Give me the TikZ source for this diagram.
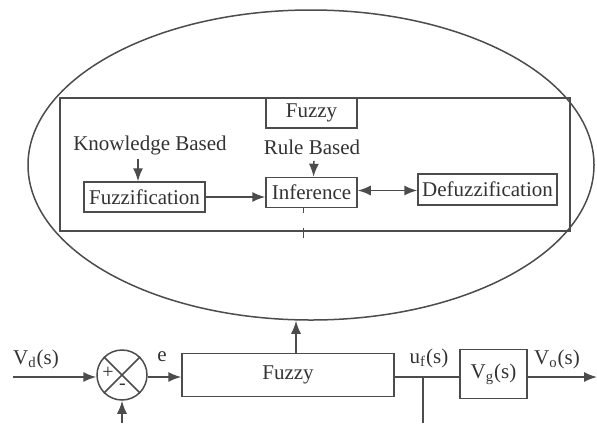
\documentclass[tikz,border=0pt]{standalone}
\usepackage{fontspec}
\setmainfont{Liberation Serif}
\usetikzlibrary{shapes.geometric,arrows.meta,calc}
\begin{document}
\begin{tikzpicture}[x=0.5pt,y=-0.5pt,
  line/.style={draw=black!70,line width=0.75pt},
  arr/.style={line,-{Latex[length=6.5pt,width=5pt]}},
  darr/.style={line,{Latex[length=6.5pt,width=5pt]}-{Latex[length=6.5pt,width=5pt]}},
  box/.style={line,rectangle,inner sep=0pt,text=black!80,font=\fontsize{10.5}{12}\selectfont},
  lbl/.style={inner sep=0pt,text=black!80,font=\fontsize{10.5}{12}\selectfont}]
\useasboundingbox (0,0) rectangle (597,423);
% ellipse and inner block
\node[ellipse,line,fill=white,minimum width=283pt,minimum height=155pt,inner sep=0pt] (ell) at (311,165) {};
\node[box,minimum width=255pt,minimum height=66.5pt] (inner) at (315,164.5) {};
\node[box,minimum width=45.5pt,minimum height=15pt] (fztop) at (311.5,113) {Fuzzy};
\node[lbl] (kb) at (150,145) {Knowledge Based};
\node[lbl] (rb) at (312,147) {Rule Based};
\node[box,minimum width=60.5pt,minimum height=15pt] (fuzz) at (144.5,197) {Fuzzification};
\node[box,minimum width=45.5pt,minimum height=15pt] (inf) at (311.5,192.5) {Inference};
\node[box,minimum width=69.5pt,minimum height=15.5pt] (defz) at (487.5,189.5) {Defuzzification};
\draw[arr] ([xshift=-3.25pt]kb.south -| fuzz.north) ++(0,4) -- ([xshift=-3.25pt]fuzz.north);
\draw[arr] ([xshift=1pt,yshift=-3pt]rb.south) -- ([xshift=1pt]inf.north);
\draw[arr] (fuzz.east) -- (fuzz.east -| inf.west);
\coordinate (da) at ($(inf.east)+(0,-2)$);
\draw[darr] (da) -- (da -| defz.west);
\draw[line,line width=0.5pt] ([xshift=-4pt]inf.south) -- ++(0,5);
\draw[line,line width=0.5pt] ([xshift=-4pt]inf.south |- inner.south) ++(0,-4) -- ++(0,10);
% bottom loop
\node[circle,line,minimum size=25pt,inner sep=0pt] (sum) at (122,375) {};
\draw[line] (sum.north west) -- (sum.south east) (sum.north east) -- (sum.south west);
\node[lbl,font=\fontsize{10}{11}\selectfont] (plus) at (108,373) {+};
\node[lbl,font=\fontsize{10}{11}\selectfont] (minus) at (122.5,387) {-};
\node[box,minimum width=106pt,minimum height=21.5pt] (fz) at (288,375) {Fuzzy};
\node[box,minimum width=33.5pt,minimum height=24.5pt] (vg) at (493.5,374) {V\textsubscript{g}(s)};
\coordinate (in) at (13,377);
\coordinate (out) at (597,377);
\coordinate (fb) at (122,423);
\coordinate (br) at (423,377);
\coordinate (brd) at (423,423);
\node[lbl] (vd) at (36,359) {V\textsubscript{d}(s)};
\node[lbl] (e) at (162,357) {e};
\node[lbl] (uf) at (429,358) {u\textsubscript{f}(s)};
\node[lbl] (vo) at (557,359) {V\textsubscript{o}(s)};
\draw[arr] (in) -- (in -| sum.west);
\draw[arr] (fb) -- (sum.south);
\draw[arr] (sum.east |- in) -- (in -| fz.west);
\draw[line] (fz.east |- in) -- (in -| vg.west);
\draw[line] (br) -- (brd);
\draw[arr] (vg.east |- in) -- (out);
\draw[arr] ([xshift=4pt]fz.north) -- ([xshift=4pt]fz.north |- ell.south);
\end{tikzpicture}
\end{document}
